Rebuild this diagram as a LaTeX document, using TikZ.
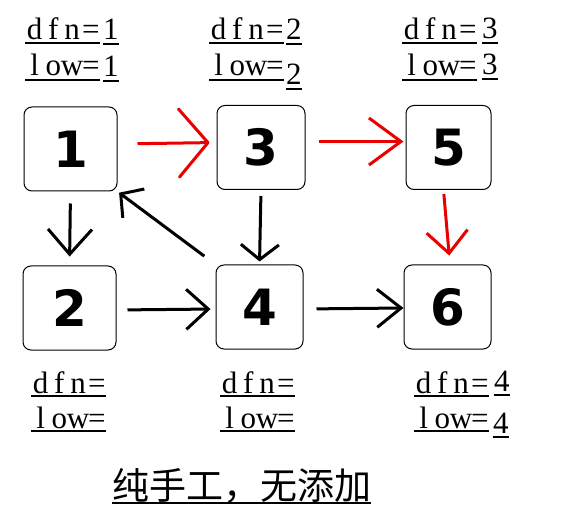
\documentclass[tikz,border=0pt]{standalone}
\usepackage{fontspec}
\setmainfont{Liberation Serif}
\newfontfamily\cjk{Noto Sans CJK SC}
\newfontfamily\digitfont{DejaVu Sans}
\usetikzlibrary{arrows.meta}
\newcommand\cell[1]{\makebox[18.75pt]{#1}}
\newcommand\ulb[2]{\setbox0\hbox{#2}\rlap{\raisebox{-#1}{\rule{\wd0}{1.7pt}}}\box0}
\newcommand\dfnt{\cell{d}\cell{f}\cell{n}\cell{=}}
\newcommand\lowt{\cell{l}\cell{o}\cell{w}\cell{=}}
\newcommand\dg[2]{\raisebox{#1}{\ulb{5pt}{#2}}}
\begin{document}
\begin{tikzpicture}[x=1pt,y=-1pt,
  box/.style={draw, rounded corners=8pt, line width=1pt, minimum width=88pt,
    minimum height=84pt, inner sep=0pt,
    font=\digitfont\bfseries\fontsize{50}{50}\selectfont},
  lbl/.style={anchor=base west, inner sep=0pt, font=\fontsize{31}{31}\selectfont},
  blk/.style={line width=3pt, black},
  rd/.style={line width=3pt, red!92!black}]
\useasboundingbox[fill=white] (0,0) rectangle (567,518);

% nodes
\node[box, minimum width=93pt] (n1) at (70.5,149) {1};
\node[box] (n3) at (261,147.5) {3};
\node[box, minimum width=85pt] (n5) at (448.5,147.5) {5};
\node[box, minimum width=93pt] (n2) at (69.5,308) {2};
\node[box, minimum width=87pt] (n4) at (259.5,307) {4};
\node[box, minimum width=87pt] (n6) at (447.5,307) {6};

% red connectors
\draw[rd, shorten <=20pt, shorten >=7pt, -{Straight Barb[length=29pt,width=68pt,round]}]
  ([yshift=5pt]n1.east) -- ([yshift=5pt]n3.west);
\draw[rd, shorten <=13pt, shorten >=2pt, -{Straight Barb[length=32pt,width=47pt]}]
  ([yshift=6pt]n3.east) -- ([yshift=6pt]n5.west);
\draw[rd, shorten <=4pt, shorten >=9pt, -{Straight Barb[length=22pt,width=41pt]}]
  ([xshift=-5pt]n5.south) -- ([xshift=2.5pt]n6.north);

% black connectors
\draw[blk, shorten <=12pt, shorten >=9pt, -{Straight Barb[length=25pt,width=44pt]}]
  (n1.south) -- (n2.north);
\draw[blk, shorten <=6pt, shorten >=3pt, -{Straight Barb[length=15pt,width=38pt]}]
  (n3.south) -- (n4.north);
\draw[blk, shorten <=14pt, shorten >=2pt, -{Straight Barb[length=16pt,width=36pt]}]
  (n4.north west) -- (n1.south east);
\draw[blk, shorten <=11pt, shorten >=5pt, -{Straight Barb[length=22pt,width=40pt]}]
  ([yshift=-2pt]n2.east) -- ([yshift=-2pt]n4.west);
\draw[blk, shorten <=13pt, shorten >=0pt, -{Straight Barb[length=24pt,width=38pt]}]
  ([yshift=-2pt]n4.east) -- ([yshift=-1pt]n6.west);

% labels, top row
\node[lbl] (l1a) at (25,40) {\ulb{3.6pt}{\dfnt}\hspace{3pt}\dg{0pt}{1}};
\node[lbl] (l1b) at (25,76) {\ulb{4.6pt}{\lowt}\hspace{3pt}\dg{-1pt}{1}};
\node[lbl] (l3a) at (209,40) {\ulb{3.6pt}{\dfnt}\hspace{2pt}\dg{0pt}{2}};
\node[lbl] (l3b) at (209,76) {\ulb{4.6pt}{\lowt}\hspace{2pt}\dg{-9pt}{2}};
\node[lbl] (l5a) at (402,40) {\ulb{3.6pt}{\dfnt}\hspace{5pt}\dg{1pt}{3}};
\node[lbl] (l5b) at (402,76) {\ulb{4.6pt}{\lowt}\hspace{5pt}\dg{1pt}{3}};

% labels, bottom row
\node[lbl] (l2a) at (31,393) {\ulb{4pt}{\dfnt}};
\node[lbl] (l2b) at (31,428) {\ulb{4pt}{\lowt}};
\node[lbl] (l4a) at (220,393) {\ulb{4pt}{\dfnt}};
\node[lbl] (l4b) at (220,428) {\ulb{4pt}{\lowt}};
\node[lbl] (l6a) at (414,393) {\ulb{4pt}{\dfnt}\hspace{5pt}\dg{2pt}{4}};
\node[lbl] (l6b) at (414,428) {\ulb{4pt}{\lowt}\hspace{4pt}\dg{-5pt}{4}};

% caption
\node[anchor=base west, inner sep=0pt, font=\cjk\fontsize{37}{37}\selectfont]
  (cap) at (112,499) {\ulb{5pt}{纯手工，无添加}};
\end{tikzpicture}
\end{document}
